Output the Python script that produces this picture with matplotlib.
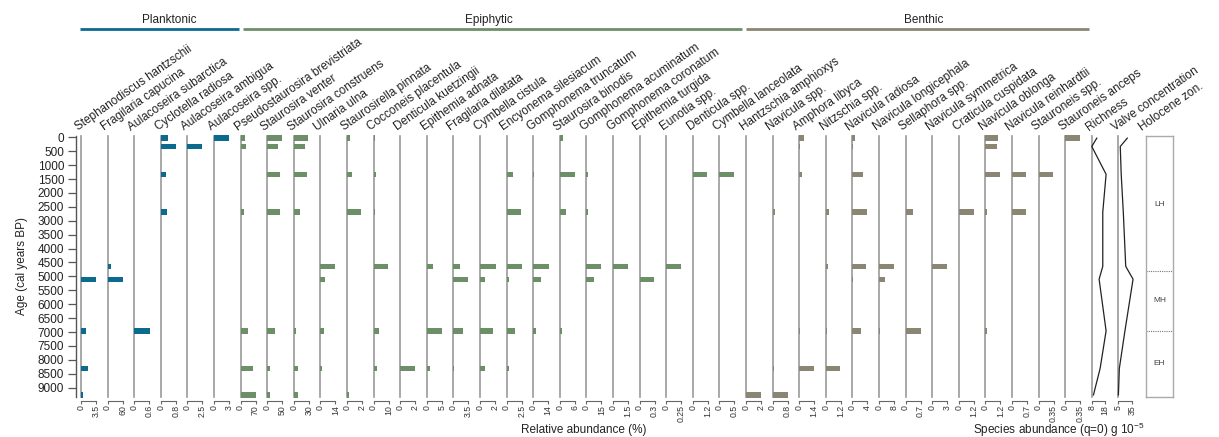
import matplotlib
matplotlib.use("Agg")
import matplotlib.pyplot as plt
from matplotlib.lines import Line2D

plt.rcParams['font.family'] = ['Liberation Sans', 'DejaVu Sans']
plt.rcParams['mathtext.fontset'] = 'custom'
plt.rcParams['mathtext.rm'] = 'Liberation Sans'

# ---------------------------------------------------------------- data
ages = [30, 330, 1330, 2690, 4640, 5100, 6960, 8310, 9260]

planktonic_taxa = ["Stephanodiscus hantzschii", "Fragilaria capucina",
                   "Aulacoseira subarctica", "Cyclotella radiosa",
                   "Aulacoseira ambigua", "Aulacoseira spp."]
planktonic_scale = ["3.5", "60", "0.6", "0.8", "2.5", "3"]
planktonic_values = [
    [0, 0, 0, 0, 0, 3.6, 1.15, 1.55, 0.5],
    [0, 0, 0, 0, 13, 61, 0, 0, 0],
    [0, 0, 0, 0, 0, 0, 0.63, 0, 0],
    [0.36, 0.8, 0.3, 0.34, 0, 0, 0, 0, 0],
    [0, 2.45, 0, 0, 0, 0, 0, 0, 0],
    [3, 0, 0, 0, 0, 0, 0, 0, 0],
]

epiphytic_taxa = ["Pseudostaurosira brevistriata", "Staurosira venter",
                  "Staurosira construens", "Ulnaria ulna",
                  "Staurosirella pinnata", "Cocconeis placentula",
                  "Denticula kuetzingii", "Epithemia adnata",
                  "Fragilaria dilatata", "Cymbella cistula",
                  "Encyonema silesiacum", "Gomphonema truncatum",
                  "Staurosira binodis", "Gomphonema acuminatum",
                  "Gomphonema coronatum", "Epithemia turgida",
                  "Eunotia spp.", "Denticula spp.", "Cymbella lanceolata"]
epiphytic_scale = ["70", "50", "30", "14", "2", "10", "2", "5", "3.5", "2",
                   "2.5", "14", "6", "15", "1.5", "0.3", "0.25", "1.2", "0.5"]
epiphytic_values = [
    [22, 26, 0, 15.5, 0, 0, 33, 59, 70],
    [48, 35.5, 41, 43, 0, 0, 24.5, 9, 10],
    [28.7, 23, 26, 13.3, 0, 0, 4, 9.3, 8],
    [0, 0, 0, 0, 13.4, 4.4, 3.7, 1.2, 0],
    [0.44, 0, 0.62, 1.9, 0, 0, 0, 0, 0.22],
    [0.9, 0, 1.3, 0.7, 9.6, 0.4, 3.3, 2.4, 0],
    [0, 0, 0, 0, 0, 0, 0, 1.95, 0],
    [0, 0, 0, 0, 1.9, 0.2, 5, 1.1, 0],
    [0, 0, 0, 0, 1.55, 3.5, 2.3, 0.23, 0],
    [0, 0, 0, 0, 2.1, 0.7, 1.73, 0.67, 0],
    [0, 0, 1.05, 2.45, 2.55, 0.33, 1.45, 0.33, 0],
    [0, 0, 0.9, 0, 14.3, 7.5, 2.5, 0, 0],
    [1.3, 0, 6.1, 2.5, 0, 0, 0.9, 0, 0],
    [0, 0, 1.7, 1.3, 15, 7.3, 0, 0, 0],
    [0, 0, 0, 0, 1.5, 0, 0, 0, 0],
    [0, 0, 0, 0, 0, 0.29, 0, 0, 0],
    [0, 0, 0, 0, 0.245, 0, 0, 0, 0],
    [0, 0, 1.17, 0, 0, 0, 0, 0, 0],
    [0, 0, 0.49, 0, 0, 0, 0, 0, 0],
]

benthic_taxa = ["Hantzschia amphioxys", "Navicula spp.", "Amphora libyca",
                "Nitzschia spp.", "Navicula radiosa", "Navicula longicephala",
                "Sellaphora spp.", "Navicula symmetrica", "Craticula cuspidata",
                "Navicula oblonga", "Navicula reinhardtii", "Stauroneis spp.",
                "Stauroneis anceps"]
benthic_scale = ["2", "0.8", "1.4", "1.2", "4", "8", "0.7", "3", "1.2",
                 "1.2", "0.7", "0.35", "0.35"]
benthic_values = [
    [0, 0, 0, 0, 0, 0, 0, 0, 2],
    [0, 0, 0, 0.14, 0, 0, 0, 0.1, 0.8],
    [0.45, 0.1, 0.25, 0, 0, 0, 0.1, 1.34, 0],
    [0, 0, 0, 0.28, 0.19, 0, 0.08, 1.15, 0],
    [0.7, 0.2, 2.9, 3.8, 3.5, 0.1, 2.4, 0, 0],
    [0, 0, 0, 0, 8, 3.2, 0.3, 0, 0],
    [0, 0, 0, 0.34, 0, 0, 0.7, 0, 0],
    [0, 0, 0, 0, 3, 0, 0, 0, 0],
    [0, 0, 0, 1.2, 0, 0, 0, 0, 0],
    [1.0, 0.96, 1.15, 0.16, 0, 0, 0.1, 0, 0],
    [0, 0, 0.65, 0.67, 0, 0, 0, 0, 0],
    [0, 0, 0.33, 0, 0, 0, 0, 0, 0],
    [0.35, 0, 0, 0, 0, 0, 0, 0, 0],
]

richness = [11.75, 8, 18.75, 16.25, 16.25, 13.5, 18.75, 14.25, 9.25]
richness_ticks = [8, 18]
valve_conc = [24, 9, 11, 15.5, 20.7, 36.4, 19, 7, 5]
valve_ticks = [5, 35]

zone_names = ["LH", "MH", "EH"]
zone_bounds = [0, 4800, 6950, 9300]

groups = ["Planktonic", "Epiphytic", "Benthic"]
group_colors = ["#0c6a8e", "#6c8f68", "#8a8673"]

# ---------------------------------------------------------------- layout
W, H = 1219, 437
fig = plt.figure(figsize=(W / 100, H / 100), dpi=100)

AGE_TOP, AGE_BOT = -60, 9320
Y0, KPX = 137.3, 0.02782          # pixel row of age 0, pixels per year
top_px = Y0 + AGE_TOP * KPX
bot_px = Y0 + AGE_BOT * KPX
X0, DX = 81.0, 26.6               # first panel line, panel pitch
PX_TICK = 15.0                    # pixel length of each scale bar
FS = 8.5
TXT = "#222222"
LINE_GREY = "#9a9a9a"


def panel_axes(xpx, wpx=DX):
    return fig.add_axes([xpx / W, 1 - bot_px / H, wpx / W, (bot_px - top_px) / H])


def style_panel(ax, ticks, labels):
    ax.set_ylim(AGE_BOT, AGE_TOP)
    ax.patch.set_visible(False)
    for s in ("top", "right"):
        ax.spines[s].set_visible(False)
    ax.spines["left"].set_color(LINE_GREY)
    ax.spines["left"].set_linewidth(1.2)
    ax.spines["bottom"].set_position(("outward", 3))
    ax.spines["bottom"].set_bounds(ticks[0], ticks[-1])
    ax.spines["bottom"].set_color("#666666")
    ax.spines["bottom"].set_linewidth(0.8)
    ax.set_yticks([])
    ax.set_xticks(ticks)
    ax.set_xticklabels(labels, rotation=90, fontsize=6.3, color="#333333")
    ax.tick_params(axis="x", direction="out", length=2.2, width=0.8,
                   color="#666666", pad=0.8)


all_taxa = planktonic_taxa + epiphytic_taxa + benthic_taxa
all_scale = planktonic_scale + epiphytic_scale + benthic_scale
all_values = planktonic_values + epiphytic_values + benthic_values
all_colors = ([group_colors[0]] * len(planktonic_taxa)
              + [group_colors[1]] * len(epiphytic_taxa)
              + [group_colors[2]] * len(benthic_taxa))

for i, (name, sc, vals, col) in enumerate(zip(all_taxa, all_scale, all_values, all_colors)):
    xpx = X0 + i * DX
    ax = panel_axes(xpx)
    tmax = float(sc)
    ax.set_xlim(0, tmax * DX / PX_TICK)
    ax.barh(ages, vals, height=190, color=col, linewidth=0, clip_on=False, zorder=3)
    style_panel(ax, [0, tmax], ["0", sc])

# richness and valve concentration curves
n_tax = len(all_taxa)
line_panels = [("Richness", richness, richness_ticks, 13.3),
               ("Valve concentration", valve_conc, valve_ticks, 14.0)]
for j, (name, vals, ticks, pxlen) in enumerate(line_panels):
    ax = panel_axes(X0 + (n_tax + j) * DX)
    span = ticks[1] - ticks[0]
    ax.set_xlim(ticks[0], ticks[0] + span * DX / pxlen)
    ax.plot(vals, ages, color="#222222", lw=0.9, clip_on=False, zorder=3)
    style_panel(ax, ticks, [str(t) for t in ticks])

# zonation column
axz = panel_axes(X0 + (n_tax + 2) * DX + 0.7, 27.6)
axz.set_ylim(AGE_BOT, AGE_TOP)
axz.set_xlim(0, 1)
axz.set_xticks([])
axz.set_yticks([])
for s in axz.spines.values():
    s.set_color("#aaaaaa")
    s.set_linewidth(1.0)
for b in zone_bounds[1:-1]:
    axz.axhline(b, color="#777777", lw=0.8, ls=(0, (1, 1)))
for k, zn in enumerate(zone_names):
    axz.text(0.5, (zone_bounds[k] + zone_bounds[k + 1]) / 2, zn,
             ha="center", va="center", fontsize=6, color="#444444")

# age axis
axy = fig.add_axes([76 / W, 1 - bot_px / H, 1 / W, (bot_px - top_px) / H])
axy.set_ylim(AGE_BOT, AGE_TOP)
axy.patch.set_visible(False)
for s in ("top", "right", "bottom"):
    axy.spines[s].set_visible(False)
axy.spines["left"].set_color("#555555")
axy.spines["left"].set_linewidth(1.0)
axy.set_xticks([])
axy.set_yticks(range(0, 9001, 500))
axy.tick_params(axis="y", direction="out", length=5.5, width=0.9,
                color="#555555", labelsize=FS, labelcolor=TXT, pad=3)
fig.text(22 / W, 1 - (top_px + bot_px) / 2 / H, "Age (cal years BP)",
         rotation=90, ha="center", va="center", fontsize=FS, color=TXT)

# taxon / variable names
col_names = all_taxa + [p[0] for p in line_panels] + ["Holocene zon."]
for i, name in enumerate(col_names):
    fig.text((X0 + i * DX - 3) / W, 1 - 131 / H, name, rotation=35,
             rotation_mode="anchor", ha="left", va="baseline",
             fontsize=FS, color=TXT)

# ecological group headers
n_pl, n_ep = len(planktonic_taxa), len(epiphytic_taxa)
spans = [(X0 - 1, X0 + n_pl * DX - 2),
         (X0 + n_pl * DX + 2, X0 + (n_pl + n_ep) * DX - 4),
         (X0 + (n_pl + n_ep) * DX, X0 + n_tax * DX - 3)]
label_x = [169, 489, 924]
for g, (a, b), lx, col in zip(groups, spans, label_x, group_colors):
    fig.add_artist(Line2D([a / W, b / W], [1 - 29 / H] * 2, color=col,
                          lw=2.0, solid_capstyle="butt"))
    fig.text(lx / W, 1 - 20 / H, g, ha="center", va="center",
             fontsize=FS, color=TXT)

# axis titles
fig.text(584 / W, 1 - 430 / H, "Relative abundance (%)", ha="center",
         va="center", fontsize=FS, color=TXT)
fig.text(1059 / W, 1 - 430 / H, r"Species abundance (q=0) g 10$^{\mathregular{-5}}$",
         ha="center", va="center", fontsize=FS, color=TXT)

fig.savefig("out.png", dpi=100)
